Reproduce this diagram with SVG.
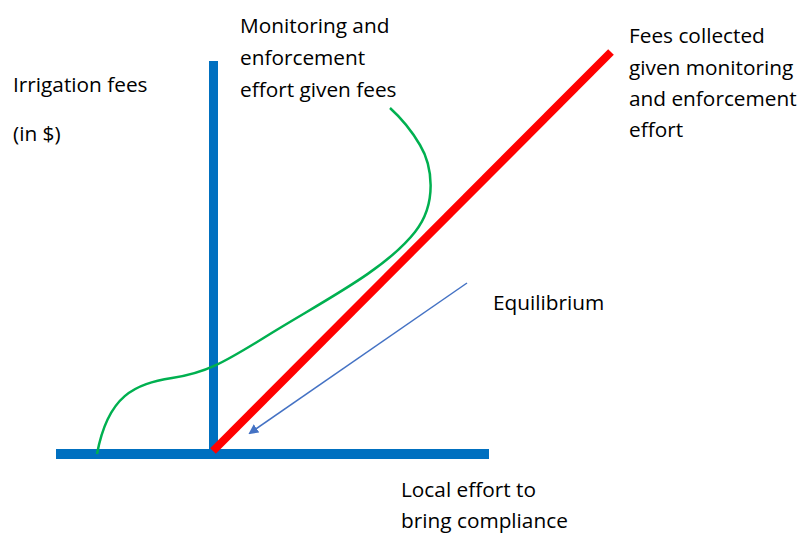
<svg xmlns="http://www.w3.org/2000/svg" width="801" height="534" viewBox="0 0 801 534">
<defs>
<style>
text{font-family:"Open Sans","Liberation Sans",sans-serif;font-size:20.8px;fill:#000}
.axis{fill:#0070C0}
</style>
<marker id="ah" markerWidth="10" markerHeight="10" refX="8" refY="5" orient="auto" markerUnits="userSpaceOnUse"><path d="M0,0 L10,5 L0,10 z" fill="#4472C4"/></marker>
</defs>
<rect width="801" height="534" fill="#fff"/>
<g id="axes">
<rect class="axis" x="209" y="61" width="9" height="394"/>
<rect class="axis" x="56" y="449" width="433" height="10"/>
</g>
<g id="connectors">
<line x1="213" y1="451" x2="611" y2="52" stroke="#FF0000" stroke-width="8"/>
<path d="M97,454 C108,395 135,384 172,378 C205,373 222,364 270,334 C325,300 385,270 415,232 C438,203 432,165 420,145 C410,128 400,117 390,108" fill="none" stroke="#00B050" stroke-width="2.5"/>
<line x1="467" y1="283" x2="250" y2="433" stroke="#4472C4" stroke-width="1.5" marker-end="url(#ah)"/>
</g>
<g id="label-y">
<text x="13" y="92">Irrigation fees</text>
<text x="13" y="141">(in $)</text>
</g>
<g id="label-green">
<text x="240" y="33">Monitoring and</text>
<text x="240" y="65">enforcement</text>
<text x="240" y="97">effort given fees</text>
</g>
<g id="label-red">
<text x="629" y="43">Fees collected</text>
<text x="629" y="75">given monitoring</text>
<text x="629" y="106">and enforcement</text>
<text x="629" y="137">effort</text>
</g>
<g id="label-eq">
<text x="493" y="310">Equilibrium</text>
</g>
<g id="label-x">
<text x="401" y="497">Local effort to</text>
<text x="401" y="528">bring compliance</text>
</g>
</svg>
